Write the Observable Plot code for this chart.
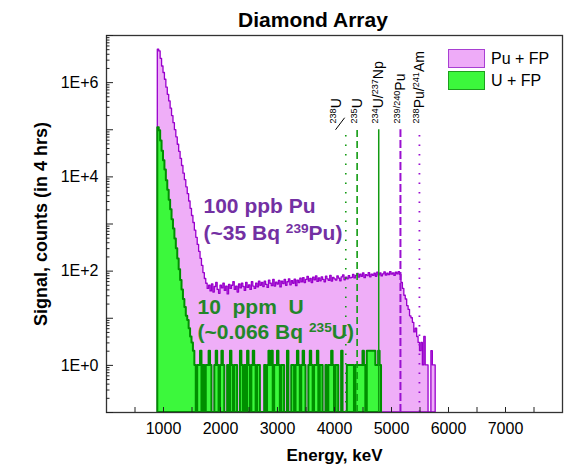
<!DOCTYPE html>
<html><head><meta charset="utf-8">
<script src="https://cdn.jsdelivr.net/npm/d3@7"></script>
<script src="https://cdn.jsdelivr.net/npm/@observablehq/plot@0.6"></script>
<style>
body{margin:0;background:#fff;font-family:"Liberation Sans",Arial,sans-serif;}
#wrap{position:relative;width:574px;height:465px;overflow:hidden;background:#fff;}
#wrap svg{position:absolute;left:0;top:0;}
#title{position:absolute;left:313px;top:9px;transform:translateX(-50%);font-size:21px;font-weight:bold;line-height:21px;white-space:nowrap;color:#000;}
.leg{position:absolute;left:448px;display:flex;align-items:center;font-size:16px;line-height:19px;height:19px;color:#000;white-space:nowrap;}
.leg .sw{box-sizing:border-box;width:37px;height:19px;border:1.5px solid;margin-right:6px;}
</style></head><body>
<div id="wrap"><div id="title">Diamond Array</div></div>
<script>
// ---- data ----
const binStart = 900, binWidth = 25; // keV, bin edges
const seriesNames = ["Pu + FP", "U + FP"];
// Pu + FP counts per 25 keV bin, from 900 keV
const puCounts = [
  5.0e6, 4.6e6, 3.2e6, 2.2e6, 1.6e6, 1.15e6, 7.8e5, 5.5e5, 4.0e5, 2.8e5,
  1.95e5, 1.38e5, 9.8e4, 6.9e4, 4.8e4, 3.4e4, 2.4e4, 1.7e4, 11700, 8500,
  6000, 4300, 3000, 2100, 1480, 1050, 720, 510, 360, 257, 182, 129, 91, 68,
  54, 42, 49, 37, 52, 35, 46, 56, 40, 33, 49, 43, 54, 38, 47, 32, 51, 42, 49, 58,
  40, 47, 35, 52, 43, 54, 46, 38, 56, 44, 50, 40, 58, 47, 42, 54, 45, 60, 49,
  56, 46, 60, 51, 44, 63, 54, 48, 65, 47, 57, 52, 62, 45, 60, 53, 65, 49, 58, 67,
  50, 61, 54, 66, 48, 63, 56, 69,
  58, 71, 56, 65, 75, 60, 68, 56, 73, 64, 77, 59, 70, 61, 74, 65, 58, 76, 67, 62,
  79, 60, 72, 67, 63, 77, 69, 61, 74, 81, 64, 73, 67, 78, 70,
  72, 83, 70, 79, 87, 73, 84, 76, 89, 71, 82, 78, 91, 74, 84, 79, 88, 76, 93, 81,
  89, 77, 85, 94, 80, 88, 82, 95, 84, 90, 79, 93, 85, 95,
  83, 56, 42, 30, 25, 18, 15, 11, 10, 8, 5, 6, 4, 3, 2, 3, 1, 4, 1, 1, 0, 0, 2, 1, 1,
  0
];
// U + FP counts per 25 keV bin, from 900 keV
const uCounts = [
  1.1e5, 9.5e4, 5.8e4, 3.5e4, 2.2e4, 1.4e4, 8300, 5200, 3200, 2000,
  1230, 780, 480, 300, 180, 107, 63, 40, 25, 17, 11, 9, 6, 4, 3, 2,
  1,0,1,1,2,0,1,0,1,1,2,1,0,
  0,1,2,1,0,1,2,1,0,0,
  1,0,2,1,0,1,1,0,0,2,
  1,0,1,0,2,1,0,1,2,1,
  0,1,1,0,0,0,1,0,1,2,
  1,2,0,1,1,2,1,0,1,1,
  0,0,2,0,0,1,1,0,1,2,
  1,0,1,2,1,0,0,1,2,1,
  0,1,1,2,0,1,1,0,0,1,
  0,1,1,2,1,0,1,1,0,0,
  2,0,0,0,1,1,1,1,1,0,
  1,1,1,1,1,2,1,0,2,2,
  2,2,2,2,1,1,2,1,0
];
const lineEnergies = [4198, 4397, 4776, 5157, 5490];
const lineLabels = ["^{238}U", "^{235}U", "^{234}U/^{237}Np", "^{239/240}Pu", "^{238}Pu/^{241}Am"];
const puNote = ["100 ppb Pu", "(~35 Bq ^{239}Pu)"];
const uNote = ["10\u00a0\u00a0ppm\u00a0\u00a0U", "(~0.066 Bq ^{235}U)"];
const xTickValues = [1000, 2000, 3000, 4000, 5000, 6000, 7000];
const xTickLabels = ["1000", "2000", "3000", "4000", "5000", "6000", "7000"];
const yTickValues = [1, 100, 1e4, 1e6];
const yTickLabels = ["1E+0", "1E+2", "1E+4", "1E+6"];

// ---- styles ----
const C = {puFill: "#efaef8", puStroke: "#9900cc", uFill: "#3cf83c", uStroke: "#008f00",
  green: "#119a11", purple: "#9a10d0", puText: "#7330a3", uText: "#23862a"};
const lineStyles = [
  {stroke: C.green, strokeWidth: 1.6, strokeDasharray: "1.5,8"},
  {stroke: C.green, strokeWidth: 1.6, strokeDasharray: "7,4"},
  {stroke: C.green, strokeWidth: 1.5},
  {stroke: C.purple, strokeWidth: 2, strokeDasharray: "8,3"},
  {stroke: C.purple, strokeWidth: 1.8, strokeDasharray: "1.5,8"}
];

const puData = puCounts.map((c, i) => ({E: binStart + i * binWidth, c}));
const uData = uCounts.map((c, i) => ({E: binStart + i * binWidth, c}));
const floorY = 0.1; // bottom of the log axis, used for zero-count bins
const cnt = d => d.c > 0 ? d.c : floorY;

const xMinor = d3.range(500, 8000, 500);
const yDecades = d3.range(-1, 8).map(k => 10 ** k);
const yMinor = d3.range(-1, 7).flatMap(k => d3.range(2, 10).map(m => m * 10 ** k));
const labelRows = lineEnergies.map((E, i) => ({E, label: lineLabels[i]}));

const chart = Plot.plot({
  width: 574, height: 465,
  marginLeft: 106, marginRight: 12, marginTop: 35, marginBottom: 53,
  x: {domain: [0, 8000], axis: null},
  y: {type: "log", domain: [0.1, 1e7], axis: null},
  style: {fontFamily: '"Liberation Sans", Arial, sans-serif', fontSize: "16px", color: "#000", background: "transparent"},
  marks: [
    Plot.areaY(puData, {x: "E", y1: floorY, y2: cnt, curve: "step-after", fill: C.puFill, stroke: C.puStroke, strokeWidth: 1.3}),
    Plot.areaY(uData, {x: "E", y1: floorY, y2: cnt, curve: "step-after", fill: C.uFill, stroke: C.uStroke, strokeWidth: 2}),
    ...lineEnergies.map((E, i) => Plot.ruleX([E], {y1: floorY, y2: 1e5, ...lineStyles[i]})),
    Plot.text(labelRows.slice(1), {x: "E", text: "label", frameAnchor: "top", dy: 88, rotate: -90, textAnchor: "start", lineAnchor: "middle", fontSize: 14}),
    Plot.text(labelRows.slice(0, 1), {x: "E", text: "label", frameAnchor: "top", dy: 88, dx: -9, rotate: -90, textAnchor: "start", lineAnchor: "middle", fontSize: 14}),
    Plot.link([lineEnergies[0]], {x1: d => d - 180, y1: 1e5, x2: d => d - 20, y2: 1.8e5, stroke: "#000", strokeWidth: 1}),
    Plot.text([puNote[0]], {x: 1702, y: 3500, textAnchor: "start", lineAnchor: "top", fontSize: 21, fontWeight: "bold", fill: C.puText}),
    Plot.text([puNote[1]], {x: 1702, y: 930, textAnchor: "start", lineAnchor: "top", fontSize: 21, fontWeight: "bold", fill: C.puText}),
    Plot.text([uNote[0]], {x: 1596, y: 26, textAnchor: "start", lineAnchor: "top", fontSize: 21, fontWeight: "bold", fill: C.uText}),
    Plot.text([uNote[1]], {x: 1596, y: 7.6, textAnchor: "start", lineAnchor: "top", fontSize: 21, fontWeight: "bold", fill: C.uText}),
    Plot.frame({stroke: "#333", strokeWidth: 1.3}),
    // inward ticks
    Plot.axisX(xMinor, {anchor: "bottom", tickSize: 5, dy: -5, fill: "none", label: null, stroke: "#222"}),
    Plot.axisY(yMinor, {anchor: "left", tickSize: 3.5, dx: 3.5, fill: "none", label: null, stroke: "#222"}),
    Plot.axisY(yDecades, {anchor: "left", tickSize: 7, dx: 7, fill: "none", label: null, stroke: "#222"}),
    // tick labels
    Plot.axisX(xTickValues, {anchor: "bottom", tickSize: 0, tickPadding: 10, fontSize: 16, label: null,
      tickFormat: d => xTickLabels[xTickValues.indexOf(d)]}),
    Plot.axisY(yTickValues, {anchor: "left", tickSize: 0, tickPadding: 8, fontSize: 16, label: null,
      tickFormat: d => yTickLabels[yTickValues.indexOf(d)]}),
    Plot.text(["Energy, keV"], {frameAnchor: "bottom", dy: 48, lineAnchor: "bottom", fontSize: 17, fontWeight: "bold"}),
    Plot.text(["Signal, counts (in 4 hrs)"], {frameAnchor: "left", dx: -60, rotate: -90, textAnchor: "middle", lineAnchor: "bottom", fontSize: 18, fontWeight: "bold"})
  ]
});

function supify(root) {
  root.querySelectorAll("text").forEach(t => {
    const spans = t.querySelectorAll("tspan");
    const targets = spans.length ? [...spans] : [t];
    targets.forEach(el => {
      const s = el.textContent;
      if (!s.includes("^{")) return;
      el.textContent = "";
      s.split(/(\^\{[^}]*\})/).forEach(p => {
        if (!p) return;
        const ts = document.createElementNS("http://www.w3.org/2000/svg", "tspan");
        if (p.startsWith("^{")) {
          ts.textContent = p.slice(2, -1);
          ts.setAttribute("baseline-shift", "super");
          ts.setAttribute("font-size", "65%");
        } else ts.textContent = p;
        el.appendChild(ts);
      });
    });
  });
}
supify(chart);
const wrap = document.getElementById("wrap");
wrap.prepend(chart);

const legendColors = [{fill: "#eeabf8", border: "#a83fd2"}, {fill: "#3cf83c", border: "#1e9e1e"}];
seriesNames.forEach((name, i) => {
  const d = document.createElement("div");
  d.className = "leg";
  d.style.top = (49 + i * 22) + "px";
  const sw = document.createElement("span");
  sw.className = "sw";
  sw.style.background = legendColors[i].fill;
  sw.style.borderColor = legendColors[i].border;
  d.appendChild(sw);
  d.appendChild(document.createTextNode(name));
  wrap.appendChild(d);
});
</script>
</body></html>
